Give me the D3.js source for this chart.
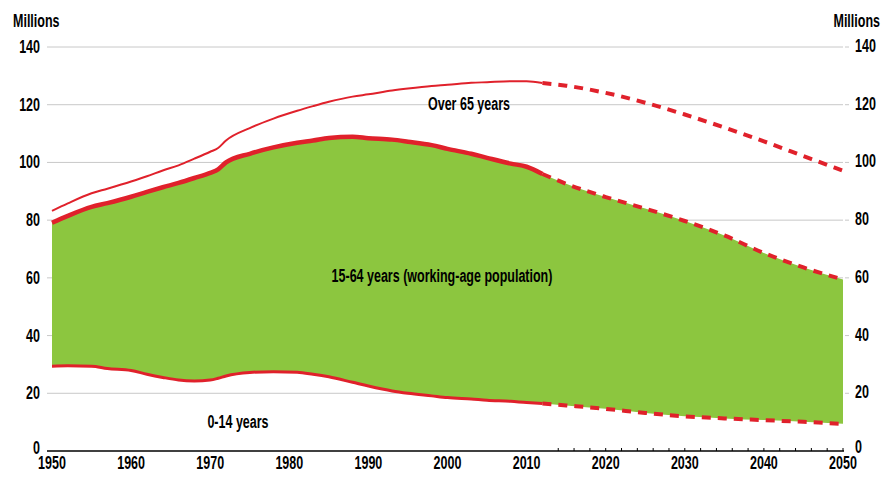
<!DOCTYPE html>
<html><head><meta charset="utf-8">
<script src="https://cdn.jsdelivr.net/npm/d3@7"></script>
<style>body{margin:0;background:#fff;} svg{display:block;}</style>
</head><body>
<svg id="chart" width="888" height="479"></svg>
<script>
const years      = [1950,1952,1955,1957,1960,1962,1964,1966,1968,1970,1971,1972,1975,1978,1981,1983,1985,1988,1990,1993,1995,1998,2000,2003,2005,2008,2010,2012,2015,2020,2025,2030,2035,2040,2045,2050];
const age0_14    = [29.4,29.5,29.4,28.6,27.9,26.6,25.5,24.6,24.3,24.6,25.2,26.0,27.2,27.5,27.3,26.6,25.7,23.8,22.5,20.8,20.0,19.1,18.5,18.0,17.6,17.2,16.8,16.5,15.8,14.6,13.2,12.0,11.3,10.7,10.1,9.4];
const age15_64   = [49.7,52.0,55.2,57.3,60.2,63.2,65.9,68.3,70.3,71.8,72.4,74.0,75.8,77.7,79.5,81.0,82.8,85.1,85.9,87.1,87.2,86.9,86.2,85.0,84.0,82.4,81.7,79.5,76.8,73.4,70.8,67.7,63.4,57.9,53.5,50.0];
const age65plus  = [4.1,4.3,4.7,5.0,5.3,5.4,5.8,6.1,6.7,7.3,7.4,7.6,8.9,10.0,11.1,11.9,12.5,13.9,15.2,17.0,18.4,20.5,22.2,24.6,26.2,28.5,29.6,31.5,34.0,36.1,36.7,36.9,37.4,38.7,38.6,37.7];
const projectionStart = 2012;
const yTicks = [0,20,40,60,80,100,120,140];
const xTickLabels = [1950,1960,1970,1980,1990,2000,2010,2020,2030,2040,2050];
const minorTicks = d3.range(2014, 2051, 2);
const labels = {old:"Over 65 years", work:"15-64 years (working-age population)", young:"0-14 years", unit:"Millions"};

const RED = "#e0212b", GREEN = "#8cc63f", GRID = "#c8c8c8";
const svg = d3.select("#chart");
const x = d3.scaleLinear().domain([1950, 2050]).range([52, 843]);
const y = d3.scaleLinear().domain([0, 140]).range([451, 47]);

const rows = years.map((yr, i) => ({year: yr, young: age0_14[i], work: age15_64[i], old: age65plus[i]}));
const stack = d3.stack().keys(["young","work","old"])(rows);

// gridlines
svg.append("g").selectAll("line").data(yTicks.filter(t => t > 0)).join("line")
  .attr("x1", 47).attr("x2", 843).attr("y1", d => y(d)).attr("y2", d => y(d))
  .attr("stroke", GRID).attr("stroke-width", 1);
// right small ticks
svg.append("g").selectAll("line").data(yTicks.filter(t => t > 0)).join("line")
  .attr("x1", 845).attr("x2", 849).attr("y1", d => y(d)).attr("y2", d => y(d))
  .attr("stroke", GRID).attr("stroke-width", 1);

// green area between 0-14 and 15-64 cumulative
const area = d3.area().curve(d3.curveMonotoneX)
  .x(d => x(d.data.year)).y0((d, i) => y(stack[0][i][1])).y1(d => y(d[1]));
svg.append("path").datum(stack[1]).attr("d", area).attr("fill", GREEN);

// lines
const line = d3.line().curve(d3.curveMonotoneX).x(d => x(d.data.year)).y(d => y(d[1]));
const widths = [3, 4.5, 2];
stack.forEach((layer, k) => {
  const hist = layer.filter(d => d.data.year <= projectionStart);
  const proj = layer.filter(d => d.data.year >= projectionStart);
  svg.append("path").datum(hist).attr("d", line).attr("fill", "none")
    .attr("stroke", RED).attr("stroke-width", widths[k]).attr("stroke-linejoin", "round");
  svg.append("path").datum(proj).attr("d", line).attr("fill", "none")
    .attr("stroke", RED).attr("stroke-width", 4).attr("stroke-dasharray", "9,7");
});

// x axis
svg.append("line").attr("x1", 47).attr("x2", 844).attr("y1", y(0)).attr("y2", y(0))
  .attr("stroke", "#000").attr("stroke-width", 1.3);
svg.append("g").selectAll("line").data(minorTicks).join("line")
  .attr("x1", d => x(d)).attr("x2", d => x(d)).attr("y1", y(0)).attr("y2", y(0) - 3)
  .attr("stroke", "#000").attr("stroke-width", 1);

const FONT = "'Liberation Sans', Arial, sans-serif";
const texts = [];
function txt(str, px, py, anchor) {
  const t = svg.append("text").attr("x", px).attr("y", py).attr("text-anchor", anchor)
    .attr("font-family", FONT).attr("font-weight", "bold").attr("font-size", 18)
    .attr("fill", "#000").text(str);
  texts.push(t);
  return t;
}
xTickLabels.forEach(v => txt(String(v), x(v), 469, "middle"));
yTicks.forEach(v => txt(String(v), 40, y(v) + (v === 0 ? 3 : 6), "end"));
yTicks.forEach(v => txt(String(v), 855, y(v) + (v === 0 ? 2 : 5), "start"));
txt(labels.unit, 13, 27, "start");
txt(labels.unit, 880, 27, "end");
const ref = txt(labels.old, 469, 110, "middle");
txt(labels.work, 442, 282, "middle");
txt(labels.young, 238, 428, "middle");

// condense the text horizontally to match the narrow typeface
const k = 82 / ref.node().getComputedTextLength();
texts.forEach(t => {
  const w = t.node().getComputedTextLength();
  t.attr("textLength", w * k).attr("lengthAdjust", "spacingAndGlyphs");
});
</script>
</body></html>
